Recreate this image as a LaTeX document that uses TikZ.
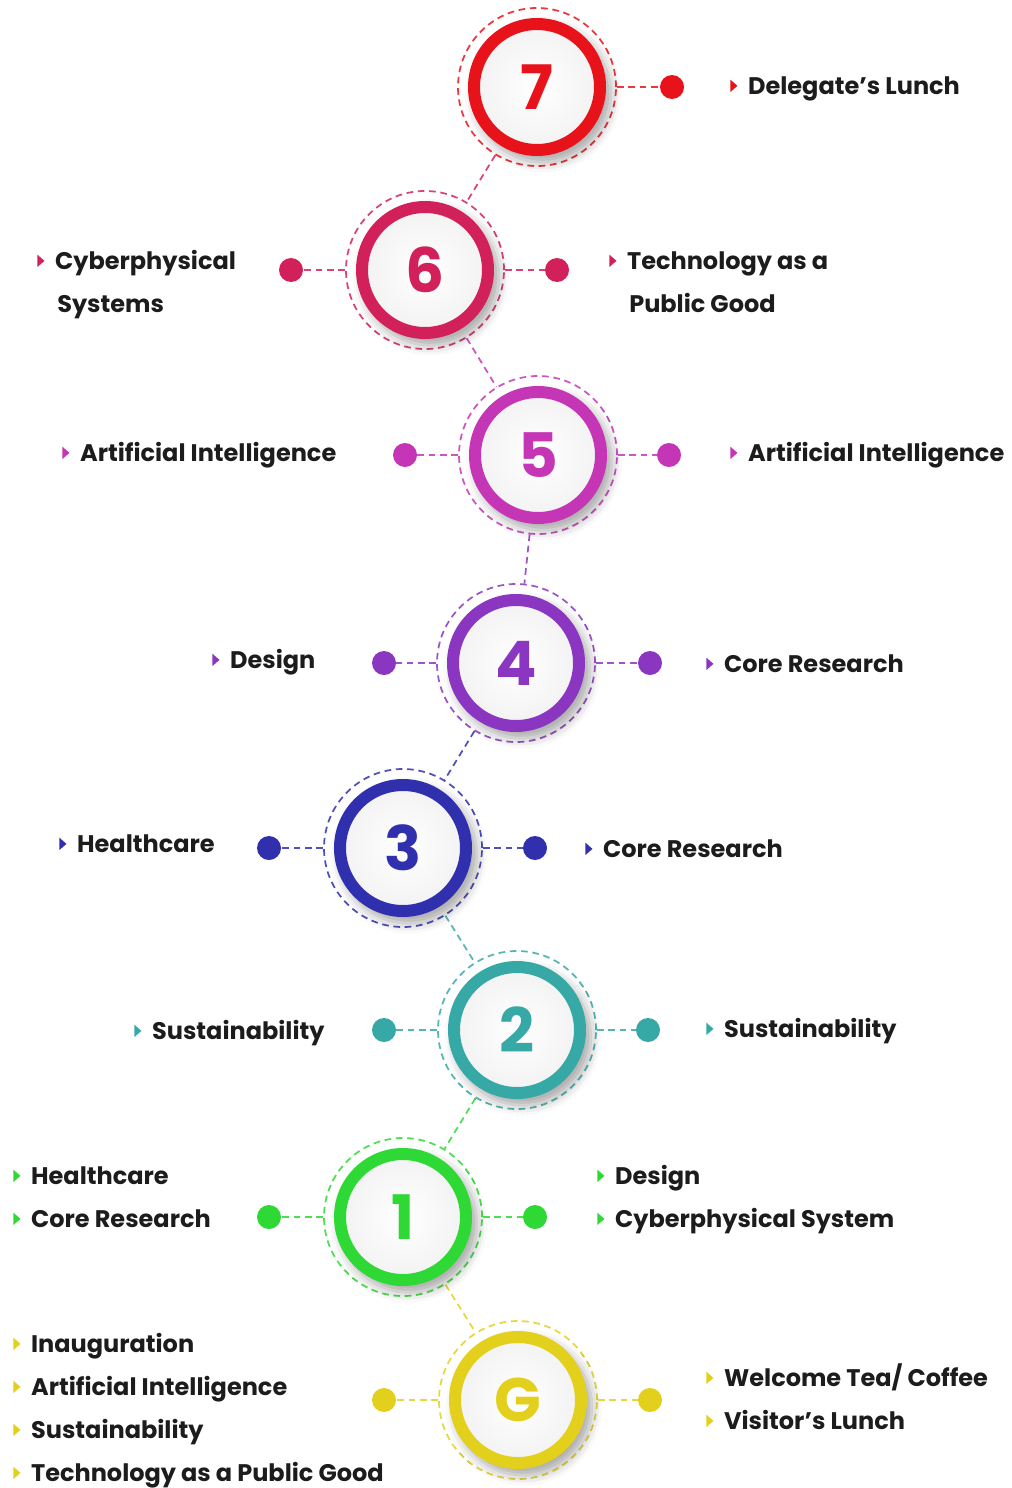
\documentclass[tikz,border=0pt]{standalone}
\usepackage{fontspec}
\setmainfont{Poppins}
\usepackage{tikz}
\usetikzlibrary{shadows.blur}
\definecolor{cG}{HTML}{E2D01C}
\definecolor{cA}{HTML}{2ED835}
\definecolor{cB}{HTML}{36A9A7}
\definecolor{cC}{HTML}{3030AE}
\definecolor{cD}{HTML}{8A36C0}
\definecolor{cE}{HTML}{C536B6}
\definecolor{cF}{HTML}{D2215A}
\definecolor{cH}{HTML}{E8121A}
\definecolor{ink}{HTML}{1C1C1C}
\newcommand{\tri}[1]{\tikz[baseline]\fill[#1] (0pt,1.4pt) -- (0pt,10.8pt) -- (5.4pt,6.1pt) -- cycle;\hspace{8pt}}

\begin{document}
\begin{tikzpicture}%
		[
			x=0.75pt, y=-0.75pt,
			numring/.style={circle, draw=#1, line width=9pt, minimum size=94.5pt, inner sep=0pt,
				inner color=white, outer color=gray!10, text=#1,
				font={\fontsize{46}{46}\selectfont\bfseries},
				blur shadow={shadow xshift=4pt, shadow yshift=-5pt, shadow blur radius=7pt, shadow opacity=35, shadow scale=1.08}},
			dashring/.style={circle, draw=#1!85, line width=1.3pt, dash pattern=on 5pt off 3.5pt, minimum size=118.5pt, inner sep=0pt},
			dot/.style={circle, fill=#1, minimum size=18pt, inner sep=0pt},
			link/.style={draw=#1!85, line width=1.3pt, dash pattern=on 5pt off 3.5pt},
			lbl/.style={anchor=base west, inner sep=0pt, text=ink, font={\fontsize{18}{18}\selectfont\bfseries}},
		]
		\useasboundingbox (0,0) rectangle (1011,1488);
		% dashed rings
		\node[dashring=cH] (s7) at (537,87) {};
		\node[dashring=cF] (s6) at (425,270) {};
		\node[dashring=cE] (s5) at (538,455) {};
		\node[dashring=cD] (s4) at (516,663) {};
		\node[dashring=cC] (s3) at (403,848) {};
		\node[dashring=cB] (s2) at (517,1030) {};
		\node[dashring=cA] (s1) at (403,1217) {};
		\node[dashring=cG] (sG) at (518,1400) {};
		% steps chain
		\draw[link=cF] (s7) -- (s6);
		\draw[link=cE] (s6) -- (s5);
		\draw[link=cD] (s5) -- (s4);
		\draw[link=cC] (s4) -- (s3);
		\draw[link=cB] (s3) -- (s2);
		\draw[link=cA] (s2) -- (s1);
		\draw[link=cG] (s1) -- (sG);
		% numbered rings
		\node[numring=cH] (n7) at (537,87) {7};
		\node[numring=cF] (n6) at (425,270) {6};
		\node[numring=cE] (n5) at (538,455) {5};
		\node[numring=cD] (n4) at (516,663) {4};
		\node[numring=cC] (n3) at (403,848) {3};
		\node[numring=cB] (n2) at (517,1030) {2};
		\node[numring=cA] (n1) at (403,1217) {1};
		\node[numring=cG] (nG) at (518,1400) {G};
		% side dots
		\node[dot=cH] (d7r) at (672,87) {};
		\node[dot=cF] (d6l) at (291,270) {};
		\node[dot=cF] (d6r) at (557,270) {};
		\node[dot=cE] (d5l) at (405,455) {};
		\node[dot=cE] (d5r) at (669,455) {};
		\node[dot=cD] (d4l) at (384,663) {};
		\node[dot=cD] (d4r) at (650,663) {};
		\node[dot=cC] (d3l) at (269,848) {};
		\node[dot=cC] (d3r) at (535,848) {};
		\node[dot=cB] (d2l) at (384,1030) {};
		\node[dot=cB] (d2r) at (648,1030) {};
		\node[dot=cA] (d1l) at (269,1217) {};
		\node[dot=cA] (d1r) at (535,1217) {};
		\node[dot=cG] (dGl) at (384,1400) {};
		\node[dot=cG] (dGr) at (650,1400) {};
		\draw[link=cH] (s7) -- (d7r);
		\draw[link=cF] (s6) -- (d6l);
		\draw[link=cF] (s6) -- (d6r);
		\draw[link=cE] (s5) -- (d5l);
		\draw[link=cE] (s5) -- (d5r);
		\draw[link=cD] (s4) -- (d4l);
		\draw[link=cD] (s4) -- (d4r);
		\draw[link=cC] (s3) -- (d3l);
		\draw[link=cC] (s3) -- (d3r);
		\draw[link=cB] (s2) -- (d2l);
		\draw[link=cB] (s2) -- (d2r);
		\draw[link=cA] (s1) -- (d1l);
		\draw[link=cA] (s1) -- (d1r);
		\draw[link=cG] (sG) -- (dGl);
		\draw[link=cG] (sG) -- (dGr);
		% labels
		\node[lbl] (t7a) at (730,94) {\tri{cH}Delegate’s Lunch};
		\node[lbl] (t6a) at (37,269) {\tri{cF}Cyberphysical};
		\node[lbl] (t6b) at (57,312) {Systems};
		\node[lbl] (t6c) at (609,269) {\tri{cF}Technology as a};
		\node[lbl] (t6d) at (629,312) {Public Good};
		\node[lbl] (t5a) at (62,461) {\tri{cE}Artificial Intelligence};
		\node[lbl] (t5b) at (730,461) {\tri{cE}Artificial Intelligence};
		\node[lbl] (t4a) at (212,668) {\tri{cD}Design};
		\node[lbl] (t4b) at (706,672) {\tri{cD}Core Research};
		\node[lbl] (t3a) at (59,852) {\tri{cC}Healthcare};
		\node[lbl] (t3b) at (585,857) {\tri{cC}Core Research};
		\node[lbl] (t2a) at (134,1039) {\tri{cB}Sustainability};
		\node[lbl] (t2b) at (706,1037) {\tri{cB}Sustainability};
		\node[lbl] (t1a) at (13,1184) {\tri{cA}Healthcare};
		\node[lbl] (t1b) at (13,1227) {\tri{cA}Core Research};
		\node[lbl] (t1c) at (597,1184) {\tri{cA}Design};
		\node[lbl] (t1d) at (597,1227) {\tri{cA}Cyberphysical System};
		\node[lbl] (tGa) at (13,1352) {\tri{cG}Inauguration};
		\node[lbl] (tGb) at (13,1395) {\tri{cG}Artificial Intelligence};
		\node[lbl] (tGc) at (13,1438) {\tri{cG}Sustainability};
		\node[lbl] (tGd) at (13,1481) {\tri{cG}Technology as a Public Good};
		\node[lbl] (tGe) at (706,1386) {\tri{cG}Welcome Tea/ Coffee};
		\node[lbl] (tGf) at (706,1429) {\tri{cG}Visitor’s Lunch};
	\end{tikzpicture}
\end{document}
